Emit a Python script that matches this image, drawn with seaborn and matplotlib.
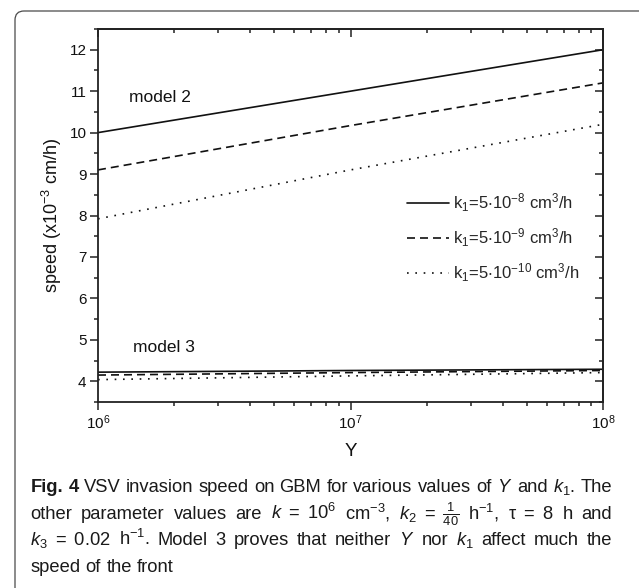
import matplotlib
matplotlib.use("Agg")
import matplotlib.pyplot as plt
import seaborn as sns
import numpy as np
import pandas as pd
from matplotlib.patches import FancyBboxPatch
from matplotlib.transforms import IdentityTransform
from matplotlib.ticker import LogLocator, MultipleLocator, NullFormatter

# ---------------- data ----------------
Y_vals = [1e6, 1e7, 1e8]
m2_k1_8 = [10.0, 11.0, 12.0]
m2_k1_9 = [9.1, 10.17, 11.2]
m2_k1_10 = [7.92, 9.1, 10.2]
m3_k1_8 = [4.22, 4.26, 4.29]
m3_k1_9 = [4.15, 4.21, 4.26]
m3_k1_10 = [4.04, 4.13, 4.21]
legend_labels = [r"k$_1$=5$\cdot$10$^{-8}$ cm$^3$/h",
                 r"k$_1$=5$\cdot$10$^{-9}$ cm$^3$/h",
                 r"k$_1$=5$\cdot$10$^{-10}$ cm$^3$/h"]
model_labels = ["model 2", "model 3"]
x_label = "Y"
y_label = r"speed (x10$^{-3}$ cm/h)"

sns.set_style("ticks")
plt.rcParams['font.family'] = ['Liberation Sans', 'DejaVu Sans']
plt.rcParams['mathtext.fontset'] = 'custom'
plt.rcParams['mathtext.default'] = 'regular'
plt.rcParams['mathtext.rm'] = 'Liberation Sans'
plt.rcParams['mathtext.it'] = 'Liberation Sans:italic'
plt.rcParams['mathtext.bf'] = 'Liberation Sans:bold'

W, H = 639, 588
fig = plt.figure(figsize=(W / 100, H / 100), dpi=100)
ax = fig.add_axes([98 / W, 1 - 402 / H, 505 / W, 373 / H])

styles = ['-', (0, (4.8, 3.0)), (0, (1.0, 4.0))]
col = '#111111'
m2 = [m2_k1_8, m2_k1_9, m2_k1_10]
m3 = [m3_k1_8, m3_k1_9, m3_k1_10]
for i in range(3):
    df2 = pd.DataFrame({"Y": Y_vals, "speed": m2[i]})
    df3 = pd.DataFrame({"Y": Y_vals, "speed": m3[i]})
    sns.lineplot(data=df2, x="Y", y="speed", ax=ax, color=col, lw=1.2,
                 linestyle=styles[i], label=legend_labels[i])
    sns.lineplot(data=df3, x="Y", y="speed", ax=ax, color=col, lw=1.2,
                 linestyle=styles[i])

ax.set_xscale('log')
ax.set_xlim(1e6, 1e8)
ax.set_ylim(3.5, 12.5)
ax.xaxis.set_major_locator(LogLocator(base=10, numticks=10))
ax.xaxis.set_minor_locator(LogLocator(base=10, subs=np.arange(2, 10), numticks=20))
ax.xaxis.set_minor_formatter(NullFormatter())
ax.yaxis.set_major_locator(MultipleLocator(1))
ax.yaxis.set_minor_locator(MultipleLocator(0.5))

spc = '#222222'
for s in ax.spines.values():
    s.set_linewidth(1.3)
    s.set_color(spc)
    s.set_visible(True)
ax.tick_params(which='both', direction='out', color=spc, width=1.1,
               labelsize=11, pad=2.5, top=False, right=False, labelcolor='#111111')
ax.tick_params(which='major', length=5.8)
ax.tick_params(which='minor', length=2.9)

# top / right inward ticks
axt = ax.secondary_xaxis('top')
axt.xaxis.set_major_locator(LogLocator(base=10, numticks=10))
axt.xaxis.set_minor_locator(LogLocator(base=10, subs=np.arange(2, 10), numticks=20))
axt.tick_params(which='both', direction='in', color=spc, width=1.1, labeltop=False)
axt.tick_params(which='major', length=5.8)
axt.tick_params(which='minor', length=2.9)
axt.spines['top'].set_linewidth(1.3)
axt.spines['top'].set_color(spc)
axr = ax.secondary_yaxis('right')
axr.yaxis.set_major_locator(MultipleLocator(1))
axr.yaxis.set_minor_locator(MultipleLocator(0.5))
axr.tick_params(which='both', direction='in', color=spc, width=1.1, labelright=False)
axr.tick_params(which='major', length=5.8)
axr.tick_params(which='minor', length=2.9)
axr.spines['right'].set_linewidth(1.3)
axr.spines['right'].set_color(spc)

ax.set_xlabel(x_label, fontsize=13.5, color='#111111')
ax.xaxis.set_label_coords(0.5, (402 - 443) / 373)
ax.set_ylabel(y_label, fontsize=13, color='#111111')
ax.yaxis.set_label_coords((64 - 98) / 505, 0.5)

ax.text((129 - 98) / 505, (402 - 97) / 373, model_labels[0], transform=ax.transAxes,
        fontsize=12.5, va='center', ha='left', color='#111111')
ax.text((133 - 98) / 505, (402 - 348) / 373, model_labels[1], transform=ax.transAxes,
        fontsize=12.5, va='center', ha='left', color='#111111')

leg = ax.legend(loc='center left', bbox_to_anchor=((407 - 98) / 505, (402 - 238) / 373),
                frameon=False, fontsize=12, handlelength=2.5, handletextpad=0.25,
                labelspacing=0.75, borderpad=0, borderaxespad=0)

# rounded frame around figure
box = FancyBboxPatch((15, -40), 700, H - 11 + 40, boxstyle="round,pad=0,rounding_size=9",
                     transform=IdentityTransform(), facecolor='none',
                     edgecolor='#4a4a4a', lw=0.9, clip_on=False)
fig.patches.append(box)

# caption (justified lines)
cap_family = ['Liberation Sans', 'DejaVu Sans']
cap_fs = 13.2
renderer = fig.canvas.get_renderer()


def tokens(s):
    out, cur, inmath = [], "", False
    for ch in s:
        if ch == '$':
            inmath = not inmath
        if ch == ' ' and not inmath:
            if cur:
                out.append(cur)
            cur = ""
        else:
            cur += ch
    if cur:
        out.append(cur)
    return out


lines = [
    ([("Fig.", 'bold'), ("4", 'bold')] +
     [(w, 'normal') for w in tokens(r"VSV invasion speed on GBM for various values of $\mathit{Y}$ and $\mathit{k}_1$. The")], True),
    ([(w, 'normal') for w in tokens(r"other parameter values are $\mathit{k}\ =\ 10^6$ cm$^{-3}$, $\mathit{k}_2\ =\ \frac{1}{40}$ h$^{-1}$, $\tau\ =\ 8$ h and")], True),
    ([(w, 'normal') for w in tokens(r"$\mathit{k}_3\ =\ 0.02$ h$^{-1}$. Model 3 proves that neither $\mathit{Y}$ nor $\mathit{k}_1$ affect much the")], True),
    ([(w, 'normal') for w in tokens("speed of the front")], False),
]
baselines = [492, 519, 545, 572]
x0, x1 = 30.5, 612.0
space_w = fig.text(0, 0, "a a", fontsize=cap_fs, family=cap_family)
sw_bb = space_w.get_window_extent(renderer).width
aa = fig.text(0, 0, "aa", fontsize=cap_fs, family=cap_family)
space_px = sw_bb - aa.get_window_extent(renderer).width
space_w.remove()
aa.remove()
for (pieces, justify), bl in zip(lines, baselines):
    texts, widths = [], []
    for s, wgt in pieces:
        t = fig.text(0, 1 - bl / H, s, fontsize=cap_fs, fontweight=wgt,
                     family=cap_family, va='baseline', ha='left', color='#1a1a1a')
        texts.append(t)
        widths.append(t.get_window_extent(renderer).width)
    if justify and len(texts) > 1:
        gap = (x1 - x0 - sum(widths)) / (len(texts) - 1)
    else:
        gap = space_px
    x = x0
    for t, w in zip(texts, widths):
        t.set_x(x / W)
        x += w + gap

fig.savefig("out.png", dpi=100)
